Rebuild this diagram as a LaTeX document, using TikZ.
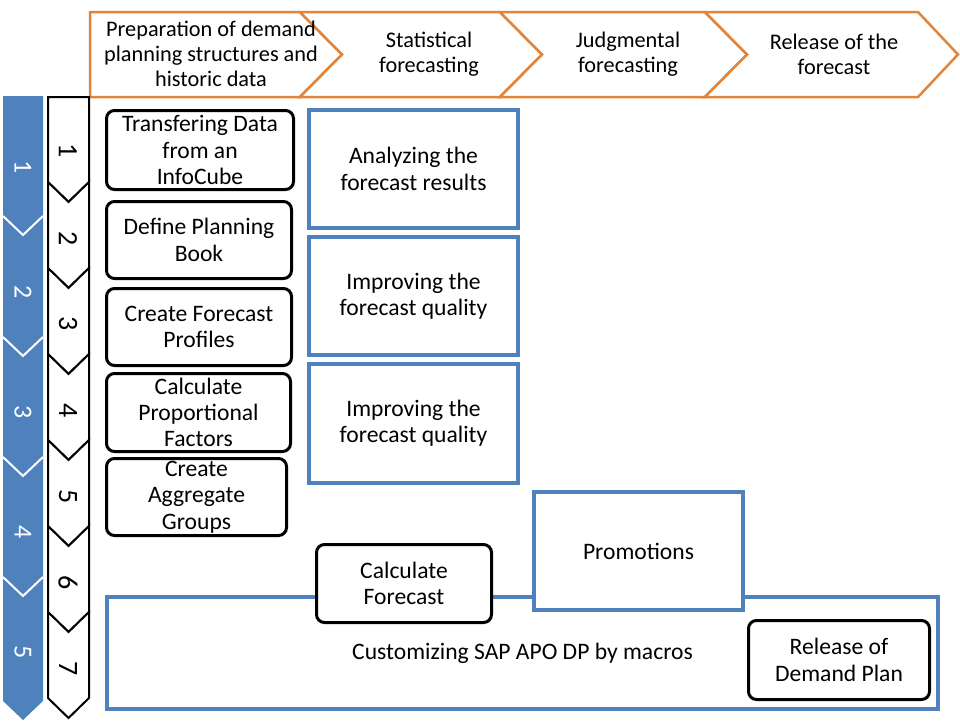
\documentclass[tikz,border=0pt]{standalone}
\usepackage{fontspec}
\setmainfont{Carlito}
\usepackage{tikz}

\definecolor{phaseorange}{RGB}{228,132,56}
\definecolor{stepblue}{RGB}{79,129,189}

\begin{document}
\begin{tikzpicture}[x=1pt,y=1pt,
    phase/.style={draw=phaseorange, line width=2.5pt, fill=white},
    phasetext/.style={align=center, font=\fontsize{22.3}{25}\selectfont},
    roundbox/.style={draw=black, line width=3pt, rounded corners=8pt, fill=white,
      align=center, font=\fontsize{23.6}{26.3}\selectfont},
    bluebox/.style={draw=stepblue, line width=4pt, fill=white,
      align=center, font=\fontsize{23.6}{26.3}\selectfont},
    stepnum/.style={rotate=-90, font=\fontsize{28}{28}\selectfont},
    blocknum/.style={rotate=-90, text=white, font=\fontsize{26}{26}\selectfont}]
        \tikzstyle{every node}+=[inner sep=0pt]
        \useasboundingbox (0,0) rectangle (960,-720);
        % phases on top
        \draw [phase] (90,-12) -- (300,-12) -- (342,-54.5) -- (300,-97) -- (90,-97) -- cycle;
        \draw [phase] (300,-12) -- (500,-12) -- (542,-54.5) -- (500,-97) -- (300,-97) -- (342,-54.5) -- cycle;
        \draw [phase] (500,-12) -- (705,-12) -- (747,-54.5) -- (705,-97) -- (500,-97) -- (542,-54.5) -- cycle;
        \draw [phase] (705,-12) -- (918,-12) -- (958,-54.5) -- (918,-97) -- (705,-97) -- (747,-54.5) -- cycle;
        \node [phasetext] (prep) at (211,-54) {Preparation of demand\\planning structures and\\historic data};
        \node [phasetext] (stat) at (429,-54) {Statistical\\forecasting};
        \node [phasetext] (judg) at (628,-54) {Judgmental\\forecasting};
        \node [phasetext] (relf) at (834,-54) {Release of the\\forecast};
        % blue blocks on the left
        \fill [stepblue] (3,-96) -- (43,-96) -- (43,-216) -- (23,-235) -- (3,-216) -- cycle;
        \fill [stepblue] (3,-216) -- (23,-235) -- (43,-216) -- (43,-337) -- (23,-356) -- (3,-337) -- cycle;
        \fill [stepblue] (3,-337) -- (23,-356) -- (43,-337) -- (43,-457) -- (23,-476) -- (3,-457) -- cycle;
        \fill [stepblue] (3,-457) -- (23,-476) -- (43,-457) -- (43,-577) -- (23,-596) -- (3,-577) -- cycle;
        \fill [stepblue] (3,-577) -- (23,-596) -- (43,-577) -- (43,-701) -- (23,-720) -- (3,-701) -- cycle;
        \draw [white, line width=2pt] (3,-216) -- (23,-235) -- (43,-216);
        \draw [white, line width=2pt] (3,-337) -- (23,-356) -- (43,-337);
        \draw [white, line width=2pt] (3,-457) -- (23,-476) -- (43,-457);
        \draw [white, line width=2pt] (3,-577) -- (23,-596) -- (43,-577);
        \node [blocknum] (b1) at (23,-167) {1};
        \node [blocknum] (b2) at (23,-292) {2};
        \node [blocknum] (b3) at (23,-412) {3};
        \node [blocknum] (b4) at (23,-532) {4};
        \node [blocknum] (b5) at (23,-652) {5};
        % numbered steps
        \draw [black, line width=2pt, fill=white] (48,-97) -- (89,-97) -- (89,-182) -- (68.5,-202) -- (48,-182) -- cycle;
        \draw [black, line width=2pt, fill=white] (48,-182) -- (68.5,-202) -- (89,-182) -- (89,-268) -- (68.5,-288) -- (48,-268) -- cycle;
        \draw [black, line width=2pt, fill=white] (48,-268) -- (68.5,-288) -- (89,-268) -- (89,-354) -- (68.5,-374) -- (48,-354) -- cycle;
        \draw [black, line width=2pt, fill=white] (48,-354) -- (68.5,-374) -- (89,-354) -- (89,-440) -- (68.5,-460) -- (48,-440) -- cycle;
        \draw [black, line width=2pt, fill=white] (48,-440) -- (68.5,-460) -- (89,-440) -- (89,-526) -- (68.5,-546) -- (48,-526) -- cycle;
        \draw [black, line width=2pt, fill=white] (48,-526) -- (68.5,-546) -- (89,-526) -- (89,-612) -- (68.5,-632) -- (48,-612) -- cycle;
        \draw [black, line width=2pt, fill=white] (48,-612) -- (68.5,-632) -- (89,-612) -- (89,-698) -- (68.5,-718) -- (48,-698) -- cycle;
        \node [stepnum] (s1) at (68,-151) {1};
        \node [stepnum] (s2) at (68,-239) {2};
        \node [stepnum] (s3) at (68,-324) {3};
        \node [stepnum] (s4) at (68,-411) {4};
        \node [stepnum] (s5) at (68,-497) {5};
        \node [stepnum] (s6) at (68,-583) {6};
        \node [stepnum] (s7) at (68,-669) {7};
        % preparation boxes
        \node [roundbox, minimum width=187pt, minimum height=79pt] (transfer) at (200,-150) {Transfering Data\\from an\\InfoCube};
        \node [roundbox, minimum width=185pt, minimum height=77pt] (book) at (199,-240) {Define Planning\\Book};
        \node [roundbox, minimum width=185pt, minimum height=77pt] (profiles) at (199,-327) {Create Forecast\\Profiles};
        \node [roundbox, minimum width=184pt, minimum height=78pt] (factors) at (198.5,-412.5) {Calculate\\Proportional\\Factors};
        \node [roundbox, minimum width=180pt, minimum height=77pt] (groups) at (196.5,-497) {Create\\Aggregate\\Groups};
        % statistical forecasting
        \node [bluebox, minimum width=209pt, minimum height=118pt] (analyze) at (413.5,-169) {Analyzing the\\forecast results};
        \node [bluebox, minimum width=209pt, minimum height=118pt] (improve1) at (413.5,-296) {Improving the\\forecast quality};
        \node [bluebox, minimum width=209pt, minimum height=119pt] (improve2) at (413.5,-423.5) {Improving the\\forecast quality};
        % macros and the rest
        \node [bluebox, minimum width=831pt, minimum height=112pt] (macros) at (522.5,-653) {Customizing SAP APO DP by macros};
        \node [roundbox, minimum width=175pt, minimum height=78pt] (calc) at (404,-583.5) {Calculate\\Forecast};
        \node [bluebox, minimum width=209pt, minimum height=118pt] (promo) at (638.5,-551) {Promotions};
        \node [roundbox, minimum width=181pt, minimum height=79pt] (reldp) at (839,-660) {Release of\\Demand Plan};
    \end{tikzpicture}
\end{document}
